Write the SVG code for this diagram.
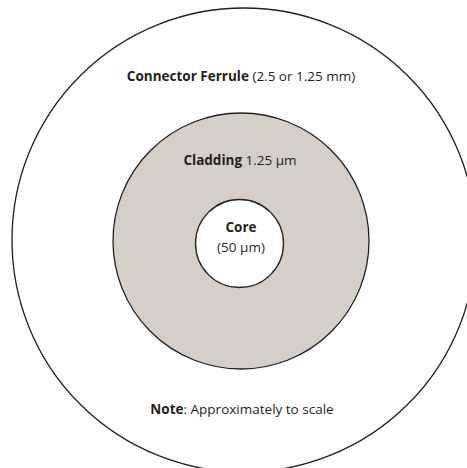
<svg xmlns="http://www.w3.org/2000/svg" width="467" height="468" viewBox="0 0 467 468">
<style>
.ring{stroke:#231f20;stroke-width:1.3}
text{font-family:"Open Sans","Noto Sans","Liberation Sans",sans-serif;font-size:13.5px;fill:#231f20;text-anchor:middle}
.b{font-weight:bold}
</style>
<rect width="467" height="468" fill="#ffffff"/>
<g id="ferrule">
<circle class="ring" cx="244" cy="240" r="232" fill="#ffffff"/>
<text x="241" y="81"><tspan class="b">Connector Ferrule</tspan> (2.5 or 1.25 mm)</text>
</g>
<g id="cladding">
<circle class="ring" cx="241" cy="241" r="128" fill="#d6cfc7"/>
<text x="240" y="165"><tspan class="b">Cladding</tspan> 1.25 μm</text>
</g>
<g id="core">
<circle class="ring" cx="239.5" cy="243.5" r="44" fill="#ffffff"/>
<text x="241" y="232" class="b">Core</text>
<text x="241" y="252">(50 μm)</text>
</g>
<g id="note">
<text x="242" y="414"><tspan class="b">Note</tspan>: Approximately to scale</text>
</g>
<g id="connectors"/>
</svg>
